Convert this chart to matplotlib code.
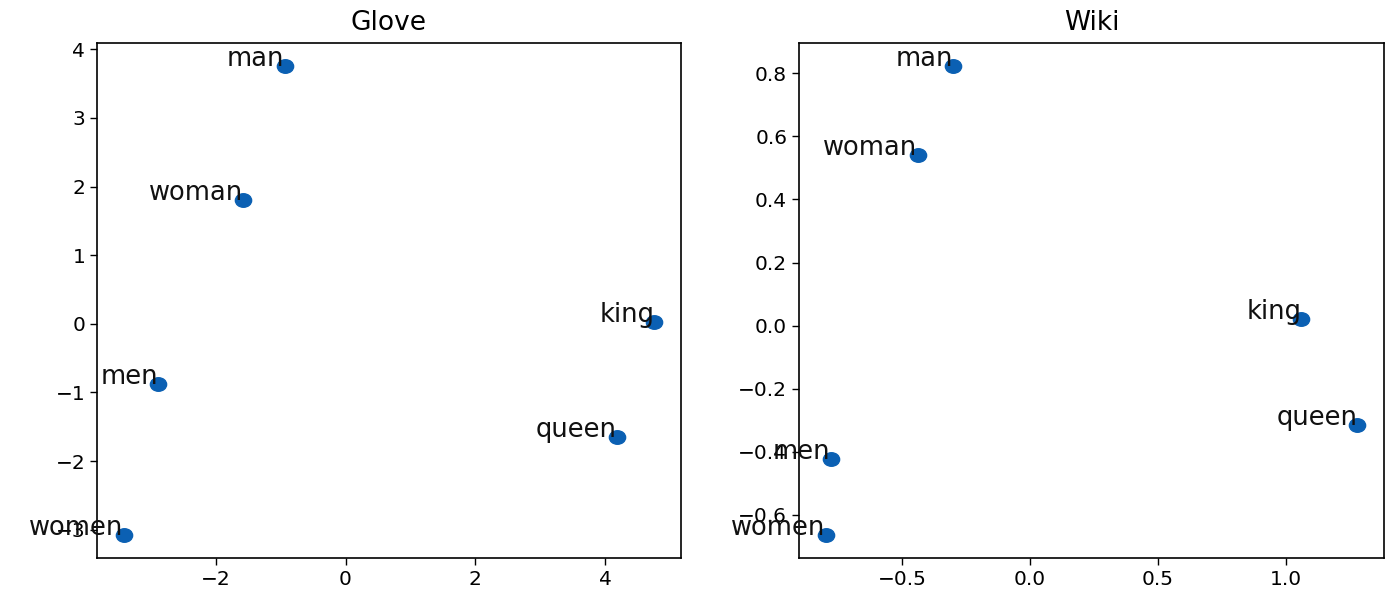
import matplotlib
matplotlib.use("Agg")
import matplotlib.pyplot as plt
from matplotlib.markers import MarkerStyle
from matplotlib.transforms import Affine2D
from matplotlib.ticker import MultipleLocator

words = ["man", "woman", "king", "men", "queen", "women"]

glove_x = [-0.94, -1.58, 4.76, -2.89, 4.18, -3.42]
glove_y = [3.75, 1.80, 0.03, -0.88, -1.65, -3.07]

wiki_x = [-0.30, -0.44, 1.06, -0.78, 1.28, -0.80]
wiki_y = [0.822, 0.541, 0.022, -0.424, -0.315, -0.663]

panels = [("Glove", glove_x, glove_y, 2.0), ("Wiki", wiki_x, wiki_y, None)]

fig = plt.figure(figsize=(13.92, 5.92), dpi=100)
positions = [[0.0697, 0.0574, 0.4195, 0.870], [0.574, 0.0574, 0.4203, 0.870]]
dot_color = "#0b60b3"
dot = MarkerStyle("o", transform=Affine2D().scale(1.2, 1.0))

for pos, (title, xs, ys, xstep) in zip(positions, panels):
    ax = fig.add_axes(pos)
    ax.scatter(xs, ys, s=95, marker=dot, color=dot_color, zorder=2)
    for w, x, y in zip(words, xs, ys):
        ax.text(x, y, w, ha="right", fontsize=18.5, color="#111111", zorder=3)
    if xstep:
        ax.xaxis.set_major_locator(MultipleLocator(xstep))
    ax.set_title(title, fontsize=19, pad=9)
    ax.tick_params(labelsize=14.5, length=5, width=1)
    for sp in ax.spines.values():
        sp.set_linewidth(1.2)

fig.savefig("out.png", dpi=100)
